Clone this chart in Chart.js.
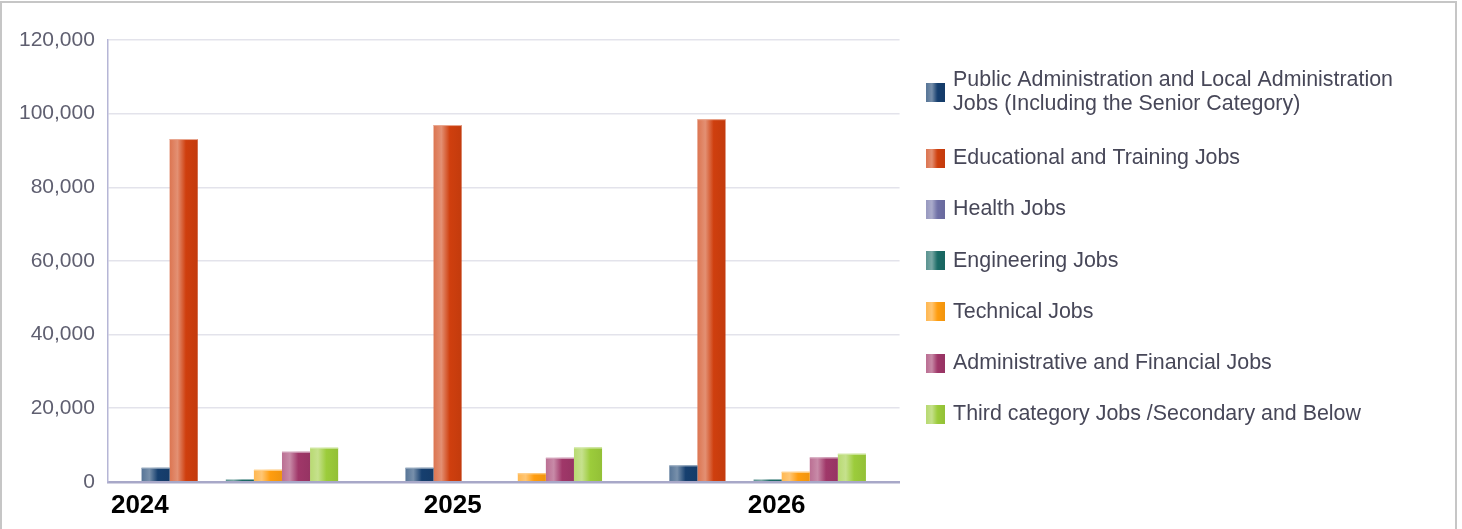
<!DOCTYPE html>
<html>
<head>
<meta charset="utf-8">
<script src="https://cdn.jsdelivr.net/npm/chart.js@4/dist/chart.umd.min.js"></script>
<style>
html, body { margin: 0; padding: 0; background: #ffffff; }
#wrap { position: relative; width: 1462px; height: 529px; overflow: hidden; }
#wrap canvas { position: absolute; left: 0; top: 0; }
#frame { position: absolute; left: 0; top: 1px; width: 1457px; height: 600px; border: 2px solid #c6c6c6; box-sizing: border-box; pointer-events: none; }
</style>
</head>
<body>
<div id="wrap">
  <canvas id="chart" width="1462" height="529"></canvas>
  <div id="frame"></div>
</div>
<script>
// ---- data ----
const categories = ['2024', '2025', '2026'];
const seriesNames = [
  'Public Administration and Local Administration\nJobs (Including the Senior Category)',
  'Educational and Training Jobs',
  'Health Jobs',
  'Engineering Jobs',
  'Technical Jobs',
  'Administrative and Financial Jobs',
  'Third category Jobs /Secondary and Below'
];
const publicAdminJobs   = [3800, 3800, 4450];
const educationalJobs   = [93100, 96900, 98500];
const healthJobs        = [0, 0, 0];
const engineeringJobs   = [650, 0, 650];
const technicalJobs     = [3250, 2300, 2700];
const adminFinanceJobs  = [8150, 6500, 6600];
const thirdCategoryJobs = [9250, 9300, 7600];
const yTickValues = [0, 20000, 40000, 60000, 80000, 100000, 120000];

// ---- styling ----
const seriesColors = ['#163f6f', '#cf3f0e', '#7071a7', '#1b6b66', '#ff9d0f', '#a03769', '#9ccc3b'];
const xLabelShift = [-100, -51, 9];   // label nudges in px (labels sit off-centre in the original)
const legendMinWidth = 540;

function hexToRgb(h) { const n = parseInt(h.slice(1), 16); return [(n >> 16) & 255, (n >> 8) & 255, n & 255]; }
function mix(h, target, t) {
  const a = hexToRgb(h), b = target === 'white' ? [255,255,255] : [0,0,0];
  return 'rgb(' + a.map((v, i) => Math.round(v + (b[i] - v) * t)).join(',') + ')';
}
function makeGradient(ctx, left, width, color) {
  const g = ctx.createLinearGradient(left, 0, left + width, 0);
  g.addColorStop(0, mix(color, 'white', 0.28));
  g.addColorStop(0.28, mix(color, 'white', 0.42));
  g.addColorStop(0.58, color);
  g.addColorStop(1, mix(color, 'black', 0.06));
  return g;
}
function makeLegendIcon(color, shiftDown) {
  const size = 19;
  const c = document.createElement('canvas');
  c.width = size; c.height = size + 2 * shiftDown;
  const cx = c.getContext('2d');
  cx.fillStyle = makeGradient(cx, 0, size, color);
  cx.fillRect(0, 2 * shiftDown, size, size);
  return c;
}

const seriesValues = [publicAdminJobs, educationalJobs, healthJobs, engineeringJobs, technicalJobs, adminFinanceJobs, thirdCategoryJobs];

const barGradientPlugin = {
  id: 'barGradient',
  afterInit(chart) {
    // let the right-hand legend be as wide as its longest label
    const legend = chart.legend;
    if (legend && !legend.__wide) {
      const orig = legend.update;
      legend.update = function (maxWidth, maxHeight, margins) {
        return orig.call(this, Math.max(maxWidth, legendMinWidth), maxHeight, margins);
      };
      legend.__wide = true;
    }
  },
  beforeDatasetsDraw(chart) {
    const ctx = chart.ctx;
    chart.data.datasets.forEach((ds, di) => {
      chart.getDatasetMeta(di).data.forEach(bar => {
        const w = bar.width, left = bar.x - w / 2;
        if (!isFinite(left) || !w) return;
        bar.options = Object.assign({}, bar.options, { backgroundColor: makeGradient(ctx, left, w, seriesColors[di]) });
      });
    });
  },
  afterDatasetsDraw(chart) {
    const ctx = chart.ctx;
    ctx.save();
    chart.data.datasets.forEach((ds, di) => {
      chart.getDatasetMeta(di).data.forEach(bar => {
        const h = bar.base - bar.y;
        if (!(h > 2)) return;
        ctx.fillStyle = mix(seriesColors[di], 'white', 0.55);
        ctx.fillRect(bar.x - bar.width / 2, bar.y, bar.width, 1);
      });
    });
    ctx.restore();
  }
};

new Chart(document.getElementById('chart'), {
  type: 'bar',
  data: {
    labels: categories,
    datasets: seriesValues.map((vals, i) => ({
      label: seriesNames[i].replace('\n', ' '),
      data: vals,
      backgroundColor: seriesColors[i],
      borderWidth: 0,
      categoryPercentage: 0.745,
      barPercentage: 1.0
    }))
  },
  plugins: [barGradientPlugin],
  options: {
    responsive: false,
    animation: false,
    events: [],
    layout: { padding: { left: 6, top: 40, right: 59, bottom: 0 } },
    scales: {
      x: {
        grid: { display: false, drawTicks: false },
        border: { display: true, color: '#a8a8c8', width: 2.5 },
        ticks: {
          color: '#000000',
          font: { family: 'Liberation Sans, Arial, sans-serif', size: 26, weight: 'bold' },
          padding: 8,
          maxRotation: 0
        },
        afterUpdate(scale) {
          if (!scale.__labelShift) {
            const orig = scale.getPixelForTick;
            scale.getPixelForTick = function (i) { return orig.call(this, i) + (xLabelShift[i] || 0); };
            scale.__labelShift = true;
          }
        }
      },
      y: {
        min: 0,
        max: 120000,
        afterBuildTicks(scale) { scale.ticks = yTickValues.map(v => ({ value: v })); },
        grid: { color: '#e3e3eb', lineWidth: 1.5, drawTicks: false },
        border: { display: true, color: '#b6b6d6', width: 1.5 },
        ticks: {
          color: '#5f5f70',
          padding: 13,
          font: { family: 'Liberation Sans, Arial, sans-serif', size: 21 },
          callback: v => Number(v).toLocaleString('en-US')
        }
      }
    },
    plugins: {
      tooltip: { enabled: false },
      legend: {
        position: 'right',
        align: 'start',
        fullSize: false,
        labels: {
          usePointStyle: true,
          boxWidth: 13,
          boxHeight: 21,
          padding: 29.8,
          color: '#474758',
          font: { family: 'Liberation Sans, Arial, sans-serif', size: 21.4, lineHeight: 1.12 },
          generateLabels(chart) {
            return chart.data.datasets.map((ds, i) => {
              const lines = seriesNames[i].split('\n');
              return {
                text: lines.length > 1 ? lines : lines[0],
                pointStyle: makeLegendIcon(seriesColors[i], lines.length > 1 ? 12 : 0),
                fillStyle: seriesColors[i],
                strokeStyle: 'rgba(0,0,0,0)',
                lineWidth: 0,
                fontColor: '#474758',
                hidden: false,
                datasetIndex: i
              };
            });
          }
        }
      }
    }
  }
});
</script>
</body>
</html>
